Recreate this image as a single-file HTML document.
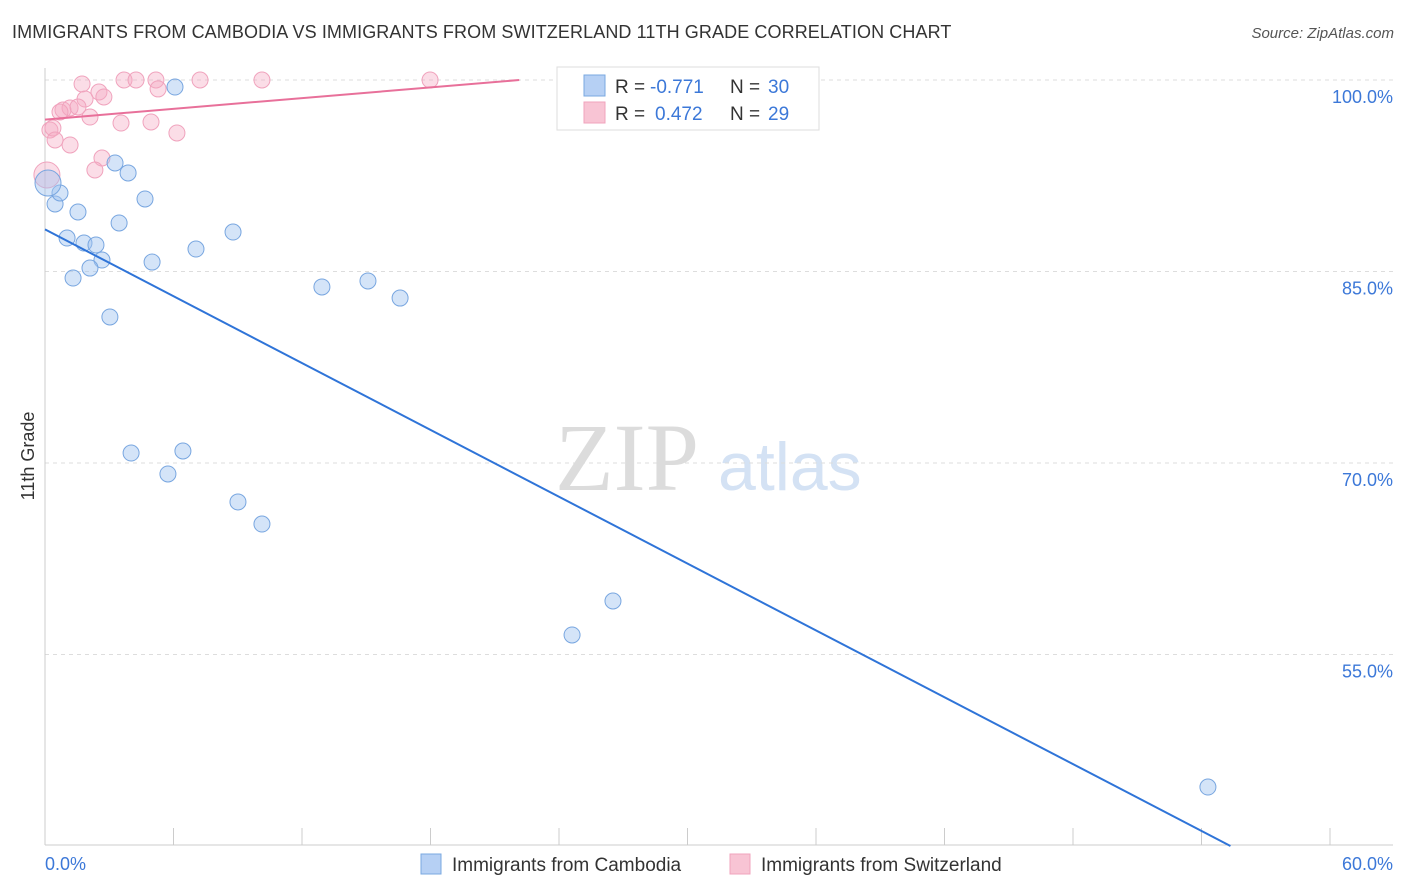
<!DOCTYPE html>
<html><head><meta charset="utf-8">
<style>
body{margin:0;background:#fff;font-family:"Liberation Sans",sans-serif;}
#wrap{position:relative;width:1406px;height:892px;overflow:hidden;}
.title{position:absolute;left:12px;top:22px;font-size:18px;color:#333;letter-spacing:0.1px;}
.source{position:absolute;right:12px;top:25px;font-size:15px;color:#555;font-style:italic;}
</style></head><body>
<div id="wrap">
<div class="title">IMMIGRANTS FROM CAMBODIA VS IMMIGRANTS FROM SWITZERLAND 11TH GRADE CORRELATION CHART</div>
<div class="source">Source: ZipAtlas.com</div>
<svg id="svg" width="1406" height="892" style="position:absolute;left:0;top:0"></svg>
</div>
<script>
const xTicks=[0,6,12,18,24,30,36,42,48,54,60];
const yGrid=[100,85,70,55];
const yTickLabels=["100.0%","85.0%","70.0%","55.0%"];
const cambodiaX=[6.07,0.47,0.70,1.54,3.27,3.88,4.67,3.46,1.03,1.82,2.38,2.66,2.10,1.31,5.00,7.05,8.78,3.03,12.93,15.08,16.58,4.02,6.44,5.74,9.01,10.13,24.61,26.52,54.30,0.14];
const cambodiaY=[99.45,90.29,91.15,89.66,93.50,92.72,90.68,88.80,87.62,87.23,87.08,85.90,85.27,84.49,85.74,86.76,88.09,81.44,83.79,84.26,82.92,70.78,70.94,69.14,66.95,65.22,56.53,59.19,44.62,91.93];
const swissX=[1.73,3.69,4.25,5.18,7.24,10.13,17.98,24.75,31.84,5.28,2.52,2.75,1.87,0.84,1.17,1.54,0.70,2.10,3.55,4.95,6.16,0.23,0.37,0.47,1.17,2.66,2.33,0.09];
const swissY=[99.69,100,100,100,100,100,100,100,100,99.30,99.06,98.67,98.51,97.65,97.81,97.89,97.49,97.10,96.63,96.71,95.85,96.08,96.24,95.30,94.91,93.89,92.95,92.56];
const cambodiaTrend=[88.3,-0.8726];
const swissTrend=[96.9,0.14];

const NS="http://www.w3.org/2000/svg";
const svg=document.getElementById('svg');
const X0=45,X1=1330,Y100=80,Y85=271.5;
const xs=v=>X0+(v/60)*(X1-X0);
const ys=v=>Y100+(100-v)*(Y85-Y100)/15;
function el(t,a,p){const e=document.createElementNS(NS,t);for(const k in a)e.setAttribute(k,a[k]);(p||svg).appendChild(e);return e;}

// watermark
let wm=el('text',{x:555,y:490,'font-size':96,'font-family':'Liberation Serif,serif',fill:'#dcdcdc'});wm.textContent='ZIP';

let wm2=el('text',{x:718,y:490,'font-size':68,'font-family':'Liberation Sans,sans-serif',fill:'#d4e2f4'});wm2.textContent='atlas';


yGrid.forEach((v,i)=>{
 const g=el('line',{x1:X0,x2:1393,y1:ys(v),y2:ys(v),stroke:'#ddd','stroke-dasharray':'4,4'});
 
 const t=el('text',{x:1393,y:ys(v)+23,'text-anchor':'end','font-size':18,fill:'#3c78d8'});t.textContent=yTickLabels[i];
 
});
const ax=el('line',{x1:X0,x2:X0,y1:68,y2:845,stroke:'#ccc'});
const bx=el('line',{x1:X0,x2:1393,y1:845,y2:845,stroke:'#ccc'});
xTicks.forEach(v=>{const t=el('line',{x1:xs(v),x2:xs(v),y1:828,y2:845,stroke:'#ccc'});});
let xl=el('text',{x:45,y:870,'font-size':18,fill:'#3c78d8'});xl.textContent='0.0%';
let xr=el('text',{x:1393,y:870,'font-size':18,fill:'#3c78d8','text-anchor':'end'});xr.textContent='60.0%';
let yt=el('text',{x:34,y:456,'font-size':18,fill:'#333','text-anchor':'middle',transform:'rotate(-90 34 456)'});yt.textContent='11th Grade';

function pts(X,Y,fill,stroke,name){X.forEach((x,i)=>{const big=x<0.2;const c=el('circle',{cx:xs(x),cy:ys(Y[i]),r:big?13:8,fill:fill,stroke:stroke,'stroke-width':1});});}
pts(swissX,swissY,'rgba(246,170,196,0.4)','#f0a3bd','point-switzerland');
pts(cambodiaX,cambodiaY,'rgba(160,195,240,0.45)','#78a6e0','point-cambodia');

// trends
let xEndB=(40-cambodiaTrend[0])/cambodiaTrend[1];
let tb=el('line',{x1:xs(0),y1:ys(cambodiaTrend[0]),x2:xs(xEndB),y2:ys(40),stroke:'#2f74d8','stroke-width':2});

let xEndP=(100-swissTrend[0])/swissTrend[1];
let tp=el('line',{x1:xs(0),y1:ys(swissTrend[0]),x2:xs(xEndP),y2:ys(100),stroke:'#e8709a','stroke-width':2});


// legend box
const lg=el('g',{});
el('rect',{x:557,y:67,width:262,height:63,fill:'#fff',stroke:'#ddd'},lg);
el('rect',{x:584,y:75,width:21,height:21,fill:'#b6d0f4',stroke:'#7aa8e0'},lg);
el('rect',{x:584,y:102,width:21,height:21,fill:'#f8c4d4',stroke:'#f0a3bd'},lg);
function lt(x,y,s,c){const t=el('text',{x:x,y:y,'font-size':19,fill:c},lg);t.textContent=s;return t;}
lt(615,93,'R = ','#333');lt(650,93,'-0.771','#3c78d8');lt(730,93,'N = ','#333');lt(768,93,'30','#3c78d8');
lt(615,120,'R = ','#333');lt(655,120,'0.472','#3c78d8');lt(730,120,'N = ','#333');lt(768,120,'29','#3c78d8');

// bottom legend
const bl=el('g',{});
el('rect',{x:421,y:854,width:20,height:20,fill:'#b6d0f4',stroke:'#7aa8e0'},bl);
let t1=el('text',{x:452,y:871,'font-size':19,fill:'#333'},bl);t1.textContent='Immigrants from Cambodia';
el('rect',{x:730,y:854,width:20,height:20,fill:'#f8c4d4',stroke:'#f0a3bd'},bl);
let t2=el('text',{x:761,y:871,'font-size':19,fill:'#333'},bl);t2.textContent='Immigrants from Switzerland';
</script>
</body></html>
